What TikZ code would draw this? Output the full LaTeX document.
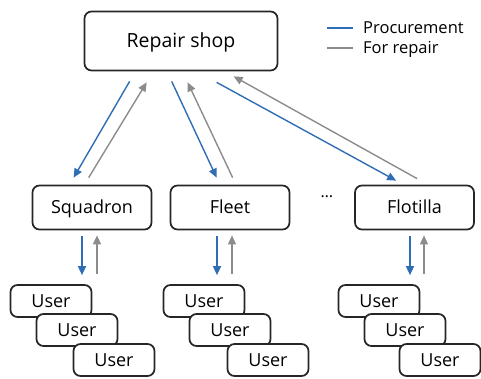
\documentclass[tikz,border=0pt]{standalone}
\usepackage{fontspec}
\setmainfont{Open Sans}
\usetikzlibrary{arrows.meta,calc}
\definecolor{procblue}{HTML}{2F6DB5}
\definecolor{repgray}{HTML}{8C8C8C}
\tikzset{
  box/.style={draw=black!85, line width=1.7pt, rounded corners=7pt, fill=white, inner sep=0pt, text height=12.9pt, text depth=0pt, font=\fontsize{18}{20}\selectfont},
  bigbox/.style={box, minimum width=193pt, minimum height=59pt, text height=13.9pt, font=\fontsize{19.5}{21}\selectfont},
  unitbox/.style={box, minimum width=119pt, minimum height=44pt},
  userbox/.style={box, minimum width=81pt, minimum height=32pt},
  proc/.style={draw=procblue, line width=1.4pt, -{Triangle[length=9pt,width=8pt]}},
  rep/.style={draw=repgray, line width=1.4pt, -{Triangle[length=9pt,width=8pt]}},
  leg/.style={line width=1.6pt},
  legtext/.style={anchor=west, inner sep=0pt, text height=11.8pt, text depth=0pt, font=\fontsize{16.5}{18}\selectfont}
}
\begin{document}
\begin{tikzpicture}[x=1pt,y=-1pt]
\useasboundingbox (0,0) rectangle (481,378);
% main boxes
\node[bigbox] (rs) at (181,41) {Repair shop};
\node[unitbox] (sq) at (92,207.5) {Squadron};
\node[unitbox] (fl) at (230,207.5) {Fleet};
\node[unitbox] (ft) at (414.5,207.5) {Flotilla};
\node[font=\fontsize{16}{18}\selectfont] (dots) at (327,197) {\dots};
% users
\node[userbox] (sqa) at (51,301) {User};
\node[userbox] (sqb) at (77,330) {User};
\node[userbox] (sqc) at (114,360) {User};
\node[userbox] (fla) at (204,301) {User};
\node[userbox] (flb) at (230,330) {User};
\node[userbox] (flc) at (268,360) {User};
\node[userbox] (fta) at (379,301) {User};
\node[userbox] (ftb) at (405,330) {User};
\node[userbox] (ftc) at (440,360) {User};
% legend
\coordinate (lpa) at (327,28);
\coordinate (lpb) at (353,28);
\coordinate (lga) at (327,48);
\coordinate (lgb) at (353,48);
\draw[leg, procblue] (lpa) -- (lpb);
\draw[leg, repgray] (lga) -- (lgb);
\node[legtext] (lpt) at (363,27.5) {Procurement};
\node[legtext] (lgt) at (363,47.5) {For repair};
% diagonal arrows
\draw[proc] ($(rs.south west)+(46,10)$) -- ($(sq.north west)+(42,-7)$);
\draw[rep] ($(sq.north west)+(57,-7)$) -- ($(rs.south west)+(63,11)$);
\draw[proc] ($(rs.south west)+(88,10)$) -- ($(fl.north west)+(47,-7)$);
\draw[rep] ($(fl.north west)+(63,-7)$) -- ($(rs.south west)+(104,11)$);
\draw[proc] ($(rs.south west)+(133,11)$) -- ($(ft.north west)+(42,-4)$);
\draw[rep] ($(ft.north west)+(63,-6)$) -- ($(rs.south west)+(150,5)$);
% vertical arrows
\draw[proc] ($(sq.south)+(-10,6)$) -- ($(sqa.north)+(31,-9)$);
\draw[rep] ($(sqa.north)+(46,-10)$) -- ($(sq.south)+(5,5)$);
\draw[proc] ($(fl.south)+(-13,6)$) -- ($(fla.north)+(13,-9)$);
\draw[rep] ($(fla.north)+(28,-10)$) -- ($(fl.south)+(2,5)$);
\draw[proc] ($(ft.south)+(-4.5,6)$) -- ($(fta.north)+(31,-9)$);
\draw[rep] ($(fta.north)+(45,-10)$) -- ($(ft.south)+(9.5,5)$);
\end{tikzpicture}
\end{document}
